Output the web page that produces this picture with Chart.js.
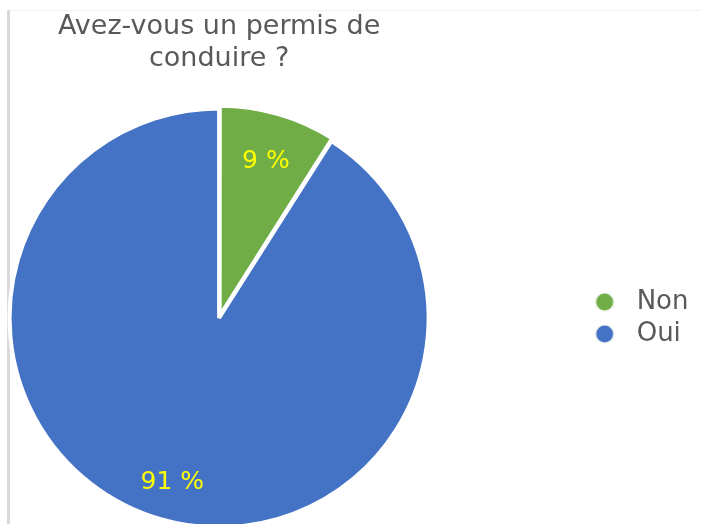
<!DOCTYPE html>
<html>
<head>
<meta charset="utf-8">
<title>Permis de conduire</title>
<script src="https://cdn.jsdelivr.net/npm/chart.js@4/dist/chart.umd.min.js"></script>
<style>
    html, body { margin: 0; padding: 0; background: #fff; overflow: hidden; }
    #wrap { position: relative; width: 701px; height: 524px; overflow: hidden; }
    #chart { position: absolute; left: -150px; top: 0; }
</style>
</head>
<body>
<div id="wrap"><canvas id="chart" width="851" height="570"></canvas></div>
<script>
// data
const categories = ['Non', 'Oui'];
const shares = [9, 91];
const sliceColors = ['#70AD47', '#4472C4'];
const titleLines = ['Avez-vous un permis de', 'conduire ?'];

// the canvas is wider than the page and pushed left, so the legend can sit far from the pie
const SHIFT = 150;
const FONT = "'DejaVu Sans', Verdana, sans-serif";

// little round markers for the legend
function makeDot(color) {
    const c = document.createElement('canvas');
    c.width = 22;
    c.height = 22;
    const g = c.getContext('2d');
    g.beginPath();
    g.arc(11, 11, 10, 0, Math.PI * 2);
    g.fillStyle = '#eef2ea';
    g.fill();
    g.beginPath();
    g.arc(11, 11, 9, 0, Math.PI * 2);
    g.fillStyle = '#fff';
    g.fill();
    g.beginPath();
    g.arc(11, 11, 8.5, 0, Math.PI * 2);
    g.fillStyle = color;
    g.fill();
    return c;
}
const dots = sliceColors.map(makeDot);

// Frame lines of the chart box
const framePlugin = {
    id: 'frame',
    beforeDraw(chart) {
        const ctx = chart.ctx;
        ctx.save();
        ctx.fillStyle = '#f2f2f2';
        ctx.fillRect(SHIFT + 10, 10, 701, 1);
        ctx.fillStyle = '#d9d9d9';
        ctx.fillRect(SHIFT + 7, 10, 3, 600);
        ctx.restore();
    }
};

// Percent labels inside the slices
const percentPlugin = {
    id: 'percentLabels',
    afterDatasetsDraw(chart) {
        const ctx = chart.ctx;
        const meta = chart.getDatasetMeta(0);
        const total = shares.reduce((a, b) => a + b, 0);
        ctx.save();
        ctx.font = '25px ' + FONT;
        ctx.fillStyle = '#FFFF00';
        ctx.textAlign = 'center';
        ctx.textBaseline = 'middle';
        meta.data.forEach((arc, i) => {
            const p = arc.getProps(['x', 'y', 'startAngle', 'endAngle', 'outerRadius'], true);
            const mid = (p.startAngle + p.endAngle) / 2;
            const r = p.outerRadius * 0.8;
            const pct = Math.round(shares[i] / total * 100);
            ctx.fillText(pct + ' %', p.x + Math.cos(mid) * r, p.y + Math.sin(mid) * r + 4);
        });
        ctx.restore();
    }
};

new Chart(document.getElementById('chart'), {
    type: 'pie',
    data: {
        labels: categories,
        datasets: [{
            data: shares,
            backgroundColor: sliceColors,
            borderColor: '#ffffff',
            borderWidth: 4,
            offset: [8, 0]
        }]
    },
    options: {
        responsive: false,
        animation: false,
        devicePixelRatio: 1,
        radius: 209.5,
        layout: {
            padding: { left: 8.5, right: 2.5, top: 0, bottom: 9 }
        },
        plugins: {
            title: {
                display: true,
                text: titleLines,
                fullSize: false,
                color: '#595959',
                font: { family: FONT, size: 27, weight: 'normal', lineHeight: 1.185 },
                padding: { top: 11, bottom: 0 }
            },
            legend: {
                position: 'right',
                fullSize: false,
                labels: {
                    usePointStyle: true,
                    pointStyleWidth: 38,
                    boxHeight: 13,
                    padding: 6,
                    color: '#595959',
                    font: { family: FONT, size: 26 },
                    generateLabels: () => categories.map((c, i) => ({
                        text: c,
                        fillStyle: sliceColors[i],
                        strokeStyle: '#fff',
                        lineWidth: 0,
                        pointStyle: dots[i],
                        fontColor: '#595959',
                        hidden: false,
                        index: i
                    }))
                }
            },
            tooltip: { enabled: false }
        }
    },
    plugins: [framePlugin, percentPlugin]
});
</script>
</body>
</html>
